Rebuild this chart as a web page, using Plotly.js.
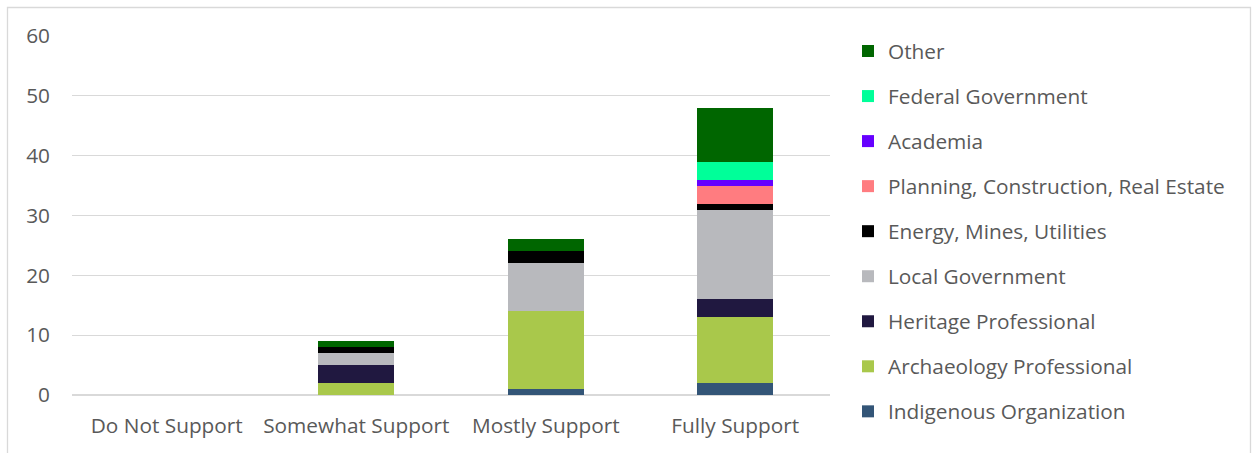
<!DOCTYPE html>
<html>
<head>
<meta charset="utf-8">
<script src="https://cdn.plot.ly/plotly-3.0.1.min.js"></script>
<style>
html,body{margin:0;padding:0;background:#fff;}
#chart{width:1252px;height:453px;}
</style>
</head>
<body>
<div id="chart"></div>
<script>
const categories = ["Do Not Support", "Somewhat Support", "Mostly Support", "Fully Support"];

const seriesNames = [
  "Indigenous Organization",
  "Archaeology Professional",
  "Heritage Professional",
  "Local Government",
  "Energy, Mines, Utilities",
  "Planning, Construction, Real Estate",
  "Academia",
  "Federal Government",
  "Other"
];

const indigenousOrganization = [0, 0, 1, 2];
const archaeologyProfessional = [0, 2, 13, 11];
const heritageProfessional = [0, 3, 0, 3];
const localGovernment = [0, 2, 8, 15];
const energyMinesUtilities = [0, 1, 2, 1];
const planningConstructionRealEstate = [0, 0, 0, 3];
const academia = [0, 0, 0, 1];
const federalGovernment = [0, 0, 0, 3];
const other = [0, 1, 2, 9];

const seriesValues = [
  indigenousOrganization, archaeologyProfessional, heritageProfessional,
  localGovernment, energyMinesUtilities, planningConstructionRealEstate,
  academia, federalGovernment, other
];

const seriesColors = ["#335577", "#A9C84B", "#201840", "#B8B9BD", "#000000",
                      "#FF7C80", "#6600FF", "#00FF99", "#006600"];

const yTicks = [0, 10, 20, 30, 40, 50, 60];

const FONT = "'Open Sans', sans-serif";
const FS = 20.8;
const TXT = "#595959";

const traces = seriesNames.map((name, i) => ({
  type: "bar",
  name: name,
  x: categories,
  y: seriesValues[i],
  marker: {color: seriesColors[i], line: {width: 0}},
  legendgroup: "g" + i,
  legendrank: 100 - i,
  hoverinfo: "x+y+name"
}));

const L = 72, R = 830, T = 36, B = 395, W = 1252, H = 453;
const pw = R - L, ph = B - T;

const layout = {
  width: W, height: H,
  margin: {l: L, r: W - R, t: T, b: H - B, pad: 0},
  paper_bgcolor: "#ffffff",
  plot_bgcolor: "#ffffff",
  barmode: "stack",
  bargap: 0.6,
  font: {family: FONT, size: FS, color: TXT},
  xaxis: {
    type: "category",
    showgrid: false, zeroline: false, showline: false,
    ticks: "", ticklabelstandoff: 16,
    tickfont: {family: FONT, size: FS, color: TXT}
  },
  yaxis: {
    range: [0, 60],
    tickvals: yTicks,
    showgrid: true, gridcolor: "#D9D9D9", gridwidth: 1.3,
    zeroline: true, zerolinecolor: "#D9D9D9", zerolinewidth: 1.3,
    showline: false, ticks: "",
    ticklabelstandoff: 21,
    tickfont: {family: FONT, size: FS, color: TXT}
  },
  showlegend: true,
  legend: {
    traceorder: "grouped",
    tracegroupgap: 15,
    maxheight: 450,
    x: (848 - L) / pw, xanchor: "left",
    y: 1 + (T - 31) / ph, yanchor: "top",
    font: {family: FONT, size: FS, color: TXT},
    bgcolor: "rgba(0,0,0,0)",
    itemclick: false, itemdoubleclick: false
  },
  shapes: [{
    type: "rect", xref: "paper", yref: "paper",
    x0: (7.5 - L) / pw, x1: (1250.5 - L) / pw,
    y0: (B - 470) / ph, y1: (B - 7.5) / ph,
    line: {color: "#D9D9D9", width: 1.3},
    fillcolor: "rgba(0,0,0,0)", layer: "below"
  }]
};

Plotly.newPlot("chart", traces, layout, {displayModeBar: false, staticPlot: true});
</script>
</body>
</html>
